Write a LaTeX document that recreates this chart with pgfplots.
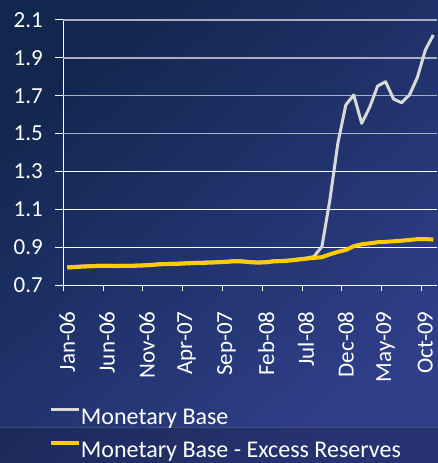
\documentclass[border=0pt]{standalone}
\usepackage{pgfplots}
\pgfplotsset{compat=1.18}
\usepackage{pgfplotstable}
\usepackage{fontspec}
\setmainfont{Carlito}
\definecolor{bgTL}{HTML}{11274E}
\definecolor{bgMid}{HTML}{172B5C}
\definecolor{bgBR}{HTML}{303F8A}
\definecolor{gridgrey}{HTML}{A8B0C2}
\definecolor{mbgrey}{HTML}{D9D9D9}
\definecolor{mbyellow}{HTML}{FFCC00}

\pgfplotstableread{
x y
0 0.795
1 0.798
2 0.800
3 0.802
4 0.804
5 0.804
6 0.803
7 0.804
8 0.804
9 0.805
10 0.807
11 0.810
12 0.813
13 0.814
14 0.815
15 0.817
16 0.819
17 0.820
18 0.821
19 0.823
20 0.825
21 0.828
22 0.827
23 0.823
24 0.821
25 0.823
26 0.828
27 0.829
28 0.832
29 0.837
30 0.842
31 0.850
32 0.903
33 1.149
34 1.448
35 1.651
36 1.704
37 1.554
38 1.639
39 1.751
40 1.774
41 1.683
42 1.663
43 1.704
44 1.797
45 1.942
46 2.021
}\mbase

\pgfplotstableread{
x y
0 0.792
1 0.795
2 0.797
3 0.799
4 0.801
5 0.801
6 0.800
7 0.801
8 0.801
9 0.802
10 0.804
11 0.807
12 0.810
13 0.811
14 0.812
15 0.814
16 0.816
17 0.817
18 0.818
19 0.820
20 0.822
21 0.825
22 0.824
23 0.820
24 0.818
25 0.820
26 0.825
27 0.826
28 0.829
29 0.834
30 0.839
31 0.843
32 0.847
33 0.862
34 0.875
35 0.885
36 0.905
37 0.915
38 0.920
39 0.926
40 0.928
41 0.931
42 0.934
43 0.938
44 0.942
45 0.943
46 0.940
}\mbexcess

\begin{document}
\begin{tikzpicture}
\shade[top color=bgTL, middle color=bgMid, bottom color=bgBR, shading angle=40] (-63.3pt,-178pt) rectangle (374.7pt,285pt);
\fill[black, opacity=0.18] (-63.3pt,-178pt) rectangle (374.7pt,-142pt);
\draw[white, opacity=0.15, line width=1pt] (-63.3pt,-142pt) -- (374.7pt,-142pt);
\begin{axis}[
  at={(0pt,0pt)}, anchor=south west,
  scale only axis, width=374pt, height=265pt,
  xmin=-0.5, xmax=46.5, ymin=0.7, ymax=2.1,
  axis lines*=left,
  axis line style={white, line width=1pt, -},
  xtick={0,5,...,45},
  xticklabels={Jan-06,Jun-06,Nov-06,Apr-07,Sep-07,Feb-08,Jul-08,Dec-08,May-09,Oct-09},
  minor xtick={-0.5,4.5,...,44.5},
  every major x tick/.append style={draw=none},
  every minor x tick/.append style={draw=white, line width=1pt},
  minor tick length=6pt,
  major tick length=8pt,
  tick align=outside,
  every major y tick/.append style={draw=white, line width=1pt},
  ytick={0.7,0.9,1.1,1.3},
  extra y ticks={1.5,1.7,1.9,2.1},
  extra y tick style={grid style={color=gridgrey, line width=1.5pt}},
  ymajorgrids,
  grid style={white, line width=1pt},
  /pgf/number format/.cd, fixed, fixed zerofill, precision=1, assume math mode=true,
  /pgfplots/.cd,
  ticklabel style={font=\fontsize{23}{26}\selectfont, text=white},
  yticklabel style={xshift=-9pt},
  xticklabel style={rotate=90, anchor=east, xshift=-15pt},
  legend style={at={(axis description cs:-0.039,-0.464)}, anchor=north west,
    draw=none, fill=none, text=white, font=\fontsize{24}{27}\selectfont,
    row sep=15pt, column sep=0pt, inner sep=0pt,
    nodes={inner sep=0pt}},
  legend cell align=left,
  legend image code/.code={\draw[#1] (0pt,7.5pt) -- (28pt,7.5pt);},
]
\addplot[mbgrey, line width=3pt, line join=round] table[x=x,y=y] {\mbase};
\addlegendentry{Monetary Base}
\addplot[mbyellow, line width=4pt, line join=round] table[x=x,y=y] {\mbexcess};
\addlegendentry{Monetary Base - Excess Reserves}
\end{axis}
\pgfresetboundingbox
\useasboundingbox (-63.3pt,-178pt) rectangle (374.7pt,285pt);
\end{tikzpicture}
\end{document}
